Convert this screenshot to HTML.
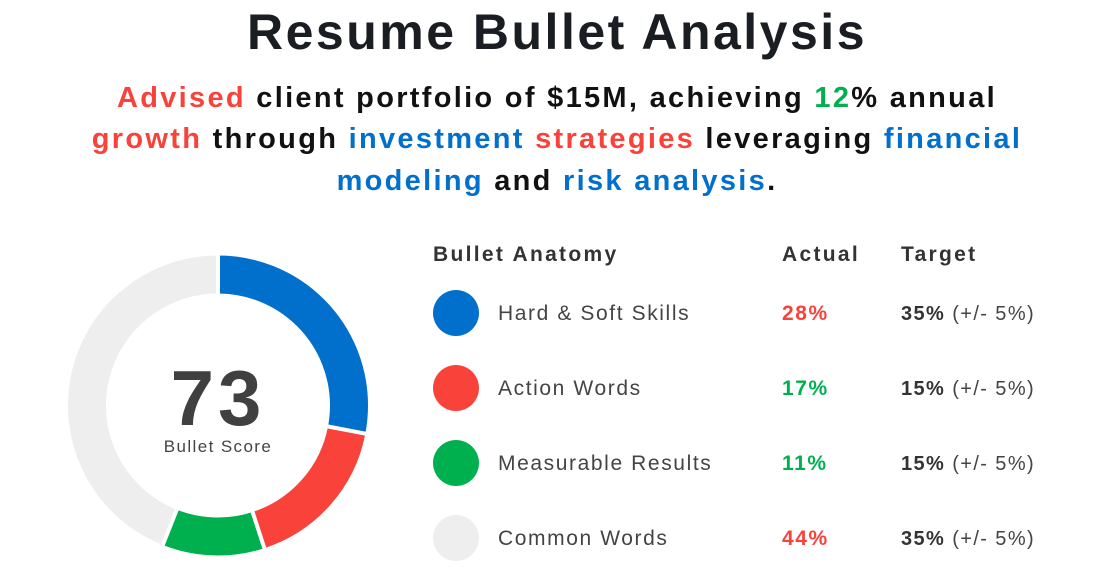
<!DOCTYPE html>
<html><head><meta charset="utf-8"><style>
body{margin:0;width:1114px;height:577px;background:#fff;overflow:hidden;font-family:"Liberation Sans",sans-serif;}
.a{position:absolute;white-space:nowrap;}
h1{position:absolute;left:0;width:1114px;top:3px;margin:0;text-align:center;font-size:50px;font-weight:bold;color:#1a1e23;letter-spacing:2.5px;}
.sub{position:absolute;left:0;width:1114px;text-align:center;font-size:29px;font-weight:bold;color:#111;letter-spacing:2.3px;}
.r{color:#f8423a}.b{color:#0070cc}.g{color:#00b04f}
.hd{font-size:21px;font-weight:bold;color:#333;letter-spacing:2.3px;}
.lb{font-size:21px;color:#444;letter-spacing:1.6px;}
.v{font-size:21px;font-weight:bold;letter-spacing:1.6px;}
.t{font-size:20px;color:#444;letter-spacing:1.4px;}
</style></head><body>
<h1>Resume Bullet Analysis</h1>
<div class="sub" style="top:82px"><span class="r">Advised</span> client portfolio of $15M, achieving <span class="g">12</span>% annual</div>
<div class="sub" style="top:123px"><span class="r">growth</span> through <span class="b">investment</span> <span class="r">strategies</span> leveraging <span class="b">financial</span></div>
<div class="sub" style="top:165px"><span class="b">modeling</span> and <span class="b">risk analysis</span>.</div>

<svg class="a" style="left:0;top:0" width="1114" height="577">
<g transform="translate(218,405.5) rotate(-90)" fill="none" stroke-width="38">
<circle r="131" stroke="#eeeeee"/>
<circle r="131" stroke="#0070cc" stroke-dasharray="230.5 1000" stroke-dashoffset="0"/>
<circle r="131" stroke="#f8423a" stroke-dasharray="139.9 1000" stroke-dashoffset="-230.5"/>
<circle r="131" stroke="#00b04f" stroke-dasharray="90.5 1000" stroke-dashoffset="-370.4"/>
<g stroke="#fff" stroke-width="4">
<line x1="108" y1="0" x2="155" y2="0" transform="rotate(0)"/>
<line x1="108" y1="0" x2="155" y2="0" transform="rotate(100.8)"/>
<line x1="108" y1="0" x2="155" y2="0" transform="rotate(162)"/>
<line x1="108" y1="0" x2="155" y2="0" transform="rotate(201.6)"/>
</g>
</g>
<text x="218" y="425" text-anchor="middle" font-family="Liberation Sans" font-weight="bold" font-size="78" letter-spacing="4" fill="#404040">73</text>
<text x="218" y="452" text-anchor="middle" font-family="Liberation Sans" font-size="17" letter-spacing="1.4" fill="#444">Bullet Score</text>
<circle cx="456" cy="313" r="23" fill="#0070cc"/>
<circle cx="456" cy="388" r="23" fill="#f8423a"/>
<circle cx="456" cy="463" r="23" fill="#00b04f"/>
<circle cx="456" cy="538" r="23" fill="#eeeeee"/>
</svg>

<div class="a hd" style="left:433px;top:243px">Bullet Anatomy</div>
<div class="a hd" style="left:782px;top:243px">Actual</div>
<div class="a hd" style="left:901px;top:243px">Target</div>

<div class="a lb" style="left:498px;top:302px">Hard &amp; Soft Skills</div>
<div class="a v r" style="left:782px;top:302px">28%</div>
<div class="a t" style="left:901px;top:303px"><b style="color:#333">35%</b> (+/- 5%)</div>

<div class="a lb" style="left:498px;top:377px">Action Words</div>
<div class="a v g" style="left:782px;top:377px">17%</div>
<div class="a t" style="left:901px;top:378px"><b style="color:#333">15%</b> (+/- 5%)</div>

<div class="a lb" style="left:498px;top:452px">Measurable Results</div>
<div class="a v g" style="left:782px;top:452px">11%</div>
<div class="a t" style="left:901px;top:453px"><b style="color:#333">15%</b> (+/- 5%)</div>

<div class="a lb" style="left:498px;top:527px">Common Words</div>
<div class="a v r" style="left:782px;top:527px">44%</div>
<div class="a t" style="left:901px;top:528px"><b style="color:#333">35%</b> (+/- 5%)</div>
</body></html>
